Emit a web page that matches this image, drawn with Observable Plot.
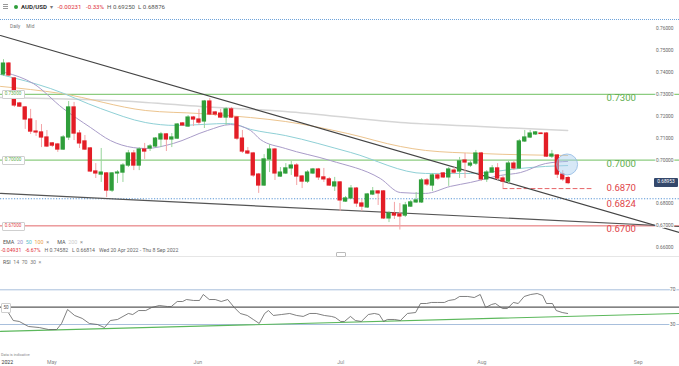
<!DOCTYPE html>
<html><head><meta charset="utf-8">
<script src="https://cdn.jsdelivr.net/npm/d3@7"></script>
<script src="https://cdn.jsdelivr.net/npm/@observablehq/plot@0.6"></script>
<style>
body{margin:0;background:#fff;font-family:Roboto,"Open Sans",sans-serif;}
#wrap{position:relative;width:679px;height:366px;overflow:hidden;background:#fff}
#wrap svg{position:absolute;left:0;overflow:visible}
.abs{position:absolute;white-space:nowrap;line-height:1}
.box{position:absolute;background:#fff;border:0.6px solid #cfcfcf;border-radius:1px;font-size:4.6px;text-align:center;white-space:nowrap}
</style></head><body><div id="wrap"></div>
<script>
// ---------- DATA ----------
const open = [0.7390,0.7440,0.7372,0.7258,0.7240,0.7185,0.7130,0.7126,0.7103,0.7076,
0.7071,0.7048,0.7103,0.7240,0.7121,0.7085,0.7053,0.6948,0.6934,0.6939,
0.6861,0.6939,0.6943,0.6975,0.7030,0.6975,0.7048,0.7053,0.7062,0.7094,
0.7117,0.7094,0.7098,0.7167,0.7153,0.7194,0.7185,0.7176,0.7267,0.7217,
0.7212,0.7194,0.7231,0.7194,0.7098,0.7039,0.7030,0.6934,0.6884,0.7003,
0.7048,0.6925,0.6939,0.6962,0.6975,0.6925,0.6902,0.6939,0.6957,0.6921,
0.6912,0.6880,0.6898,0.6811,0.6825,0.6870,0.6802,0.6784,0.6843,0.6857,
0.6857,0.6734,0.6756,0.6752,0.6747,0.6788,0.6807,0.6807,0.6907,0.6884,
0.6930,0.6939,0.6921,0.6952,0.6948,0.6998,0.6975,0.6984,0.7030,0.6912,
0.6943,0.6962,0.6916,0.6902,0.6984,0.6962,0.7085,0.7103,0.7117,0.7121,
0.7121,0.7016,0.7021,0.6934,0.6918];
const high = [0.7458,0.7445,0.7377,0.7263,0.7244,0.7231,0.7180,0.7162,0.7135,0.7080,
0.7076,0.7112,0.7267,0.7263,0.7135,0.7112,0.7057,0.6984,0.7053,0.6943,
0.6943,0.6952,0.6984,0.7044,0.7044,0.7057,0.7076,0.7071,0.7103,0.7126,
0.7121,0.7121,0.7167,0.7171,0.7203,0.7199,0.7231,0.7272,0.7281,0.7222,
0.7231,0.7240,0.7240,0.7199,0.7135,0.7057,0.7035,0.6939,0.7025,0.7071,
0.7053,0.6966,0.6984,0.6994,0.6984,0.6930,0.6952,0.6962,0.6962,0.6962,
0.6921,0.6921,0.6902,0.6834,0.6884,0.6875,0.6820,0.6848,0.6875,0.6861,
0.6861,0.6766,0.6807,0.6802,0.6807,0.6816,0.6852,0.6916,0.6916,0.6939,
0.6939,0.6943,0.6966,0.6966,0.7012,0.7030,0.6998,0.7044,0.7035,0.6952,
0.6975,0.6984,0.6925,0.6994,0.6994,0.7094,0.7135,0.7135,0.7130,0.7126,
0.7126,0.7044,0.7025,0.6952,0.6925];
const low = [0.7381,0.7381,0.7240,0.7240,0.7140,0.7117,0.7108,0.7057,0.7057,0.7057,
0.7035,0.7044,0.7089,0.7089,0.7053,0.7044,0.6943,0.6916,0.6898,0.6829,
0.6852,0.6893,0.6898,0.6966,0.6952,0.6952,0.7003,0.7039,0.7057,0.7057,
0.7039,0.7057,0.7094,0.7153,0.7149,0.7153,0.7158,0.7144,0.7203,0.7199,
0.7190,0.7158,0.7190,0.7089,0.7030,0.7025,0.6921,0.6848,0.6880,0.6943,
0.6907,0.6921,0.6934,0.6930,0.6884,0.6870,0.6893,0.6934,0.6907,0.6898,
0.6880,0.6857,0.6766,0.6807,0.6820,0.6784,0.6766,0.6779,0.6838,0.6793,
0.6729,0.6715,0.6729,0.6681,0.6738,0.6784,0.6802,0.6802,0.6880,0.6857,
0.6907,0.6916,0.6880,0.6934,0.6916,0.6916,0.6966,0.6975,0.6902,0.6898,
0.6939,0.6907,0.6870,0.6893,0.6952,0.6957,0.7080,0.7098,0.7112,0.7117,
0.7012,0.7007,0.6916,0.6902,0.6888];
const close = [0.7440,0.7386,0.7249,0.7244,0.7185,0.7130,0.7126,0.7103,0.7062,0.7066,
0.7048,0.7103,0.7240,0.7121,0.7076,0.7048,0.6948,0.6939,0.6943,0.6861,
0.6939,0.6943,0.6975,0.7030,0.6975,0.7048,0.7039,0.7062,0.7098,0.7117,
0.7094,0.7103,0.7162,0.7158,0.7194,0.7185,0.7171,0.7267,0.7208,0.7208,
0.7194,0.7231,0.7194,0.7098,0.7039,0.7030,0.6930,0.6884,0.7003,0.7048,
0.6939,0.6943,0.6962,0.6975,0.6925,0.6902,0.6943,0.6957,0.6921,0.6912,
0.6884,0.6898,0.6816,0.6825,0.6870,0.6802,0.6788,0.6843,0.6857,0.6848,
0.6734,0.6756,0.6747,0.6743,0.6793,0.6807,0.6816,0.6907,0.6889,0.6930,
0.6916,0.6921,0.6957,0.6943,0.6994,0.6989,0.6984,0.7030,0.6912,0.6943,
0.6962,0.6916,0.6902,0.6984,0.6962,0.7085,0.7103,0.7121,0.7126,0.7119,
0.7016,0.7025,0.6934,0.6912,0.6895];

// moving averages (candle index, price)
const ema20Idx = [0.4,5.5,11.0,16.0,19.7,23.9,26.2,31.3,37.6,41.8,45.5,47.3,51.9,60.2,69.4,73.1,77.7,82.3,86.0,91.5,95.2,99.8,103.9];
const ema20Val = [0.7399,0.7349,0.7235,0.7149,0.7089,0.7057,0.7053,0.7076,0.7135,0.7162,0.7135,0.7094,0.7053,0.6998,0.6916,0.6852,0.6848,0.6880,0.6898,0.6930,0.6943,0.6984,0.6994];
const ema50Idx = [-0.55,8.7,17.9,26.2,31.7,41.8,45.5,51.9,63.9,77.7,86.0,95.2,99.8,103.9];
const ema50Val = [0.7390,0.7326,0.7235,0.7171,0.7158,0.7167,0.7140,0.7112,0.7035,0.6939,0.6939,0.6962,0.6971,0.6975];
const ema100Idx = [-0.55,10.5,26.2,36.3,45.5,51.9,63.4,73.1,77.7,87.8,103.9];
const ema100Val = [0.7336,0.7304,0.7226,0.7212,0.7194,0.7176,0.7121,0.7062,0.7044,0.7030,0.7021];
const ma200Idx = [-0.55,26.2,36.3,51.9,73.1,87.8,103.9];
const ma200Val = [0.7285,0.7263,0.7244,0.7222,0.7171,0.7153,0.7135];

// trendlines (index, price)
const trendAIdx = [-0.55,124.5], trendAVal = [0.7568,0.6670];
const trendBIdx = [-0.55,124.5], trendBVal = [0.6848,0.6697];

// key levels
const greenLevels = [0.73,0.70];
const redLevel = 0.67;
const blueLevel = 0.6824;
const dashLevel = 0.6870, dashFromIdx = 92, dashToIdx = 108.5;
const greenLabelText = ["0.7300","0.7000"], greenLabelVal = [0.7300,0.7000];
const redLabelText = ["0.6870","0.6824","0.6700"], redLabelVal = [0.6870,0.6824,0.6700];
const circleIdx = 103.8, circleVal = 0.6980;

const yTicks = [0.76,0.75,0.74,0.73,0.72,0.71,0.70,0.69,0.68,0.67,0.66];

// RSI (candle index, value)
const rsiIdx = [0.2,1.8,2.9,4.6,6.6,8.3,9.8,10.7,11.8,13.1,14.5,15.8,17.3,18.6,19.7,21.0,23.0,23.8,24.9,26.2,27.3,28.7,30.2,30.9,32.0,33.0,33.7,35.0,36.1,36.8,37.9,39.0,40.1,41.3,42.5,43.6,44.9,46.0,47.1,48.1,48.8,49.7,51.2,52.7,54.0,55.2,56.4,57.6,59.1,60.4,61.1,62.1,62.8,63.9,64.8,65.9,67.2,68.3,69.2,70.0,70.7,72.0,73.1,74.4,75.9,76.8,77.9,78.8,79.9,81.2,82.0,83.1,84.0,85.5,86.7,87.8,88.8,89.9,90.6,91.9,92.8,93.9,94.8,95.9,97.1,98.3,99.3,100.0,101.1,101.8,102.9,103.9];
const rsiVal = [50.7,34.6,33.5,27.7,26.5,24.2,24.2,31.2,47.3,40.4,37.0,31.2,30.0,26.5,34.6,35.8,42.7,41.5,46.1,46.1,49.6,51.9,50.7,50.7,56.5,56.5,58.8,57.7,57.7,64.6,58.8,58.8,56.5,58.8,49.6,42.7,40.4,35.8,31.2,42.7,46.1,40.4,41.5,42.7,40.4,39.3,42.7,42.7,40.4,39.3,38.1,33.5,33.5,39.3,34.6,33.5,41.5,42.7,41.5,33.5,35.8,35.8,34.6,42.7,43.8,54.2,54.2,55.4,55.4,55.4,57.7,58.8,62.3,62.3,61.1,64.6,49.6,53.1,54.2,48.4,48.4,55.4,54.2,62.3,64.6,65.7,63.4,54.2,54.2,46.1,43.8,42.7];
const rsiTrendIdx = [-0.55,124.5], rsiTrendVal = [22.0,42.7];
const rsiLevels = [70,30];

const monthLabels = ["May","Jun","Jul","Aug","Sep"];
const monthIdx = [8.9,35.8,62.1,88.1,116.9];

// ---------- BUILD ----------
const pts = (xs, ys) => xs.map((x,i)=>({x, y: ys[i]}));
const lbl = (ts, vs) => ts.map((t,i)=>({t, v: vs[i]}));
const candles = open.map((o,i)=>({i, open:o, high:high[i], low:low[i], close:close[i], up: close[i] >= o}));
const ups = candles.filter(d=>d.up), downs = candles.filter(d=>!d.up);
const xDomain = [-0.55, 124.5];
const GREEN = "#5fae4f", RED = "#e0454a";
const bigLabel = {frameAnchor:"right", textAnchor:"start", dx:-73, fontSize:9.6};
const redL = lbl(redLabelText, redLabelVal);

const main = Plot.plot({
  width: 679, height: 256, margin: 0,
  x: {domain: xDomain, range: [0, 679], axis: null},
  y: {domain: [0.66, 0.76], range: [247.3, 28], axis: null},
  style: {background: "transparent", fontFamily: "Roboto, sans-serif"},
  marks: [
    Plot.ruleY(greenLevels, {stroke: "#8ccc80", strokeWidth: 1.3}),
    Plot.ruleY([redLevel], {stroke: "#e2676a", strokeWidth: 1}),
    Plot.ruleY([blueLevel], {stroke: "#5a96d6", strokeWidth: 1.1, strokeDasharray: "1.2,1.6"}),
    Plot.line(pts([dashFromIdx, dashToIdx],[dashLevel,dashLevel]), {x:"x", y:"y", stroke: "#e76468", strokeWidth: 1, strokeDasharray: "4,3"}),
    Plot.line(pts(ma200Idx, ma200Val), {x:"x", y:"y", stroke:"#d6d6d6", strokeWidth:1.5, curve:"monotone-x"}),
    Plot.line(pts(ema100Idx, ema100Val), {x:"x", y:"y", stroke:"#ecc48e", strokeWidth:1, curve:"monotone-x"}),
    Plot.line(pts(ema50Idx, ema50Val), {x:"x", y:"y", stroke:"#8fd0d6", strokeWidth:1, curve:"monotone-x"}),
    Plot.line(pts(ema20Idx, ema20Val), {x:"x", y:"y", stroke:"#a99cc9", strokeWidth:1, curve:"monotone-x"}),
    Plot.line(pts(trendAIdx, trendAVal), {x:"x", y:"y", stroke:"#444", strokeWidth:1.2}),
    Plot.line(pts(trendBIdx, trendBVal), {x:"x", y:"y", stroke:"#555", strokeWidth:1.2}),
    Plot.ruleX(ups, {x:"i", y1:"low", y2:"high", stroke:"#96d49a", strokeWidth:1}),
    Plot.ruleX(downs, {x:"i", y1:"low", y2:"high", stroke:"#f3a3a6", strokeWidth:1}),
    Plot.rect(ups, {x1: d=>d.i-0.4, x2: d=>d.i+0.4, y1:"open", y2:"close", fill:"#2f9e3a", insetTop:-0.6, insetBottom:-0.6}),
    Plot.rect(downs, {x1: d=>d.i-0.4, x2: d=>d.i+0.4, y1:"open", y2:"close", fill:"#e31d26", insetTop:-0.6, insetBottom:-0.6}),
    Plot.dot([{x: circleIdx, y: circleVal}], {x:"x", y:"y", r: 10.5, fill:"#a7cdee", fillOpacity:0.45, stroke:"#8fb9e3", strokeWidth:0.8}),
    Plot.text(yTicks, {y: d=>d, text: d=>d.toFixed(5), frameAnchor:"right", textAnchor:"end", dx:-6, fontSize:4.8, fill:"#666", stroke:"white", strokeWidth:2}),
    Plot.text(lbl(greenLabelText, greenLabelVal), {y:"v", text:"t", ...bigLabel, dy:3.5, fill: GREEN}),
    Plot.text([redL[0]], {y:"v", text:"t", ...bigLabel, dy:-0.5, fill: RED}),
    Plot.text([redL[1]], {y:"v", text:"t", ...bigLabel, dy:5.5, fill: RED}),
    Plot.text([redL[2]], {y:"v", text:"t", ...bigLabel, dy:3.5, fill: RED})
  ]
});
main.style.top = "0px";

const rsi = Plot.plot({
  width: 679, height: 110, margin: 0,
  x: {domain: xDomain, range: [0, 679], axis: null},
  y: {domain: [30, 70], range: [68, 33.3], axis: null},
  style: {background: "transparent", fontFamily: "Roboto, sans-serif"},
  marks: [
    Plot.ruleY(rsiLevels, {stroke:"#a8bfdc", strokeWidth:1}),
    Plot.ruleY([50], {stroke:"#5a5a5a", strokeWidth:1.4}),
    Plot.line(pts(rsiTrendIdx, rsiTrendVal), {x:"x", y:"y", stroke:"#5cb85c", strokeWidth:1.2}),
    Plot.line(pts(rsiIdx, rsiVal), {x:"x", y:"y", stroke:"#606060", strokeWidth:0.8}),
    Plot.text(rsiLevels, {y: d=>d, text: d=>String(d), frameAnchor:"right", textAnchor:"end", dx:-4, fontSize:4.8, fill:"#666", stroke:"white", strokeWidth:2}),
    Plot.text(monthLabels.map((m,i)=>({m, x: monthIdx[i]})), {x:"x", text:"m", frameAnchor:"bottom", dy:-3, fontSize:5.2, fill:"#888"}),
    Plot.text(["2022"], {text: d=>d, frameAnchor:"bottom-left", textAnchor:"start", dx:1, dy:-3, fontSize:5.2, fill:"#333"})
  ]
});
rsi.style.top = "256px";

const wrap = document.getElementById("wrap");
wrap.appendChild(main);
wrap.appendChild(rsi);

function add(html, css){ const d=document.createElement("div"); d.className="abs"; d.innerHTML=html; Object.assign(d.style, css); wrap.appendChild(d); return d; }
const yS = main.scale("y");
const yR = rsi.scale("y");

// header
[4,6,8].forEach(t=>add('', {left:"3px", top:t+"px", width:"5px", height:"0", borderTop:"0.8px solid #999"}));
add('', {left:"14px", top:"4.5px", width:"4.2px", height:"4.2px", borderRadius:"50%", background:"#2e9e3a"});
add('<b style="color:#333">AUD/USD</b>&nbsp; <span style="color:#777">&#9662;</span>&nbsp;&nbsp; <span style="color:#e0303a">-0.00231&nbsp;&nbsp; -0.33%</span>&nbsp; <span style="color:#555">H 0.69250&nbsp; L 0.68876</span>', {left:"21px", top:"3.6px", fontSize:"6.1px"});
add('', {left:"0px", top:"19px", width:"679px", height:"0", borderTop:"1px dotted #6ea3da"});
add('<span style="color:#777">Daily</span>&nbsp;&nbsp;&nbsp;&nbsp; <span style="color:#777">Mid</span>', {left:"10px", top:"24.5px", fontSize:"4.8px"});

// left level boxes
[[0.73,"0.73000",GREEN],[0.70,"0.70000",GREEN],[0.67,"0.67000",RED]].forEach(([v,t,c])=>{
  const y = yS.apply(v);
  const b = document.createElement("div"); b.className="box";
  Object.assign(b.style, {left:"1.5px", top:(y-3.3)+"px", width:"21px", height:"6.6px", lineHeight:"6.6px", color:c});
  b.textContent = t; wrap.appendChild(b);
});
// current price box
{
  const y = yS.apply(close[close.length-1]);
  add('0.68953', {left:"654px", top:(y-4.3)+"px", width:"24px", height:"8.6px", lineHeight:"8.6px", textAlign:"center", background:"#34486b", color:"#fff", fontSize:"4.8px", borderRadius:"1px"});
}
// legend rows
add('<span style="color:#555">EMA</span>&nbsp; <span style="color:#9b8fc6">20</span>&nbsp; <span style="color:#5ebfcc">50</span>&nbsp; <span style="color:#eba04a">100</span>&nbsp; <span style="color:#888">&#215;</span>&nbsp;&nbsp;&nbsp;&nbsp;&nbsp; <span style="color:#555">MA</span>&nbsp; <span style="color:#ccc">200</span>&nbsp; <span style="color:#888">&#215;</span>', {left:"3px", top:"239.5px", fontSize:"5.4px"});
add('<span style="color:#e0303a">-0.04931&nbsp;&nbsp; -6.67%</span>&nbsp;&nbsp; <span style="color:#666">H 0.74582&nbsp;&nbsp; L 0.66814&nbsp;&nbsp; Wed 20 Apr 2022 - Thu 8 Sep 2022</span>', {left:"1px", top:"247.5px", fontSize:"5.2px"});
add('', {left:"0px", top:"256px", width:"679px", height:"0", borderTop:"1px solid #e6e6e6"});
add('', {left:"336px", top:"252px", width:"8px", height:"3px", border:"0.6px solid #bbb", borderRadius:"1px", background:"#fff"});
add('<span style="color:#555">RSI</span>&nbsp; <span style="color:#777">14</span>&nbsp; <span style="color:#777">70</span>&nbsp; <span style="color:#777">30</span>&nbsp; <span style="color:#888">&#215;</span>', {left:"3px", top:"259.5px", fontSize:"5.2px"});
// RSI 50 box
{
  const y = 256 + yR.apply(50);
  const b = document.createElement("div"); b.className="box";
  Object.assign(b.style, {left:"1px", top:(y-4)+"px", width:"8px", height:"8px", lineHeight:"8px", color:"#555"});
  b.textContent = "50"; wrap.appendChild(b);
}
add('Data is indicative', {left:"1px", top:"352.5px", fontSize:"3.8px", color:"#888"});
</script></body></html>
